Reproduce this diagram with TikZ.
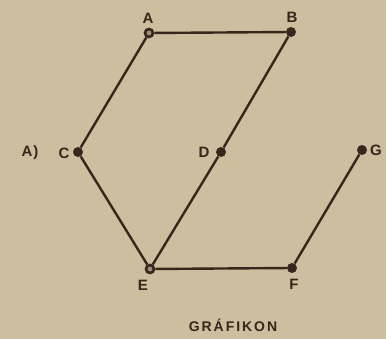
\documentclass[tikz,border=0pt]{standalone}
\usepackage{fontspec}
\newfontfamily\labfont[LetterSpace=6]{Liberation Sans Bold}
\newfontfamily\titlefont[LetterSpace=14]{Liberation Sans Bold}
\definecolor{paper}{RGB}{204,190,158}
\definecolor{ink}{RGB}{55,38,28}
\begin{document}
\begin{tikzpicture}[x=1pt,y=-1pt,
  dot/.style={circle,fill=ink,inner sep=0pt,minimum size=10pt},
  hollow/.style={circle,draw=ink,line width=2.6pt,fill=paper!70!ink,inner sep=0pt,minimum size=8pt},
  edge/.style={draw=ink,line width=2.4pt},
  lab/.style={text=ink,font=\labfont\fontsize{15}{15}\selectfont,inner sep=0pt}]
\fill[paper] (0,0) rectangle (386,339);
\useasboundingbox (0,0) rectangle (386,339);
\node[hollow] (A) at (149,33) {};
\node[dot] (B) at (291,32) {};
\node[dot] (C) at (78,152) {};
\node[dot] (D) at (221,152) {};
\node[dot] (G) at (362,150) {};
\node[hollow] (E) at (150,269) {};
\node[dot] (F) at (292,268) {};
\draw[edge] (A) -- (B);
\draw[edge] (A) -- (C);
\draw[edge] (C) -- (E);
\draw[edge] (E) -- (D);
\draw[edge] (D) -- (B);
\draw[edge] (E) -- (F);
\draw[edge] (F) -- (G);
\node[lab] (lA) at (148,18) {A};
\node[lab] (lB) at (292,17) {B};
\node[lab] (lC) at (64,153) {C};
\node[lab] (lD) at (204,152) {D};
\node[lab] (lG) at (376,150) {G};
\node[lab] (lE) at (143,285) {E};
\node[lab] (lF) at (294,284) {F};
\node[lab] (lAA) at (30,153) {A)};
\node[lab,font=\titlefont\fontsize{14}{14}\selectfont] (title) at (233,325) {GRÁFIKON};
\end{tikzpicture}
\end{document}
